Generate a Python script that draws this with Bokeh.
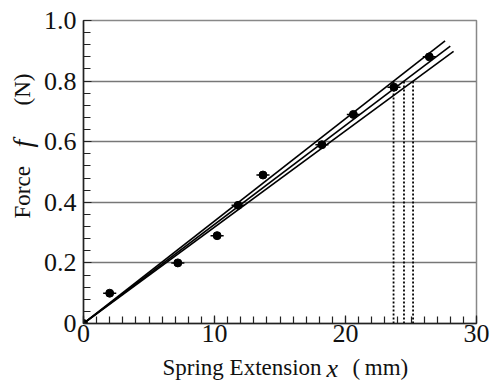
import math
from bokeh.plotting import figure
from bokeh.models import Label, FixedTicker, Range1d
from bokeh.layouts import row, column
from bokeh.embed import file_html
from bokeh.resources import INLINE

# data
ext = [2.0, 7.2, 10.2, 11.8, 13.7, 18.2, 20.6, 23.7, 26.4]
force = [0.10, 0.20, 0.29, 0.39, 0.49, 0.59, 0.69, 0.78, 0.88]
ext_err = [0.5, 0.5, 0.5, 0.5, 0.5, 0.5, 0.5, 0.5, 0.5]
fit_slopes = [0.0338, 0.0327, 0.0318]
fit_xend = [27.6, 28.0, 28.25]
read_force = 0.8
x_ticks = [0, 10, 20, 30]
y_ticks = [0, 0.2, 0.4, 0.6, 0.8, 1.0]
y_tick_labels = ["0", "0.2", "0.4", "0.6", "0.8", "1.0"]

FONT = "Liberation Serif"
INK = "#111111"

p = figure(width=451, height=354, output_backend="svg", toolbar_location=None,
           x_range=Range1d(0, 30), y_range=Range1d(0, 1.0),
           min_border_left=41, min_border_right=15, min_border_top=20, min_border_bottom=31)
p.background_fill_color = "white"
p.border_fill_color = "white"
p.outline_line_color = "#888888"
p.outline_line_width = 1.5

p.xgrid.visible = False
p.ygrid.ticker = FixedTicker(ticks=[0.2, 0.4, 0.6, 0.8])
p.ygrid.grid_line_color = "#777777"
p.ygrid.grid_line_width = 1.5

p.xaxis.ticker = FixedTicker(ticks=x_ticks, minor_ticks=list(range(0, 31)))
p.yaxis.ticker = FixedTicker(ticks=y_ticks, minor_ticks=[round(i * 0.04, 2) for i in range(26)])
p.yaxis.major_label_overrides = {t: l for t, l in zip(y_ticks, y_tick_labels)}
for ax in (p.xaxis[0], p.yaxis[0]):
    ax.major_tick_in = 8
    ax.major_tick_out = 0
    ax.minor_tick_in = 7
    ax.minor_tick_out = 0
    ax.axis_line_color = "#222222"
    ax.axis_line_width = 1.5
    ax.major_tick_line_color = "#222222"
    ax.minor_tick_line_color = "#222222"
    ax.major_tick_line_width = 1.2
    ax.minor_tick_line_width = 1.2
    ax.major_label_text_font = FONT
    ax.major_label_text_font_size = "26px"
    ax.major_label_text_color = INK
p.xaxis[0].major_label_standoff = 1
p.yaxis[0].major_label_standoff = 7

# fit lines
for s, xe in zip(fit_slopes, fit_xend):
    p.line([0, xe], [0, s * xe], line_color="black", line_width=1.6)

# dotted read-off lines
for s in fit_slopes:
    xr = read_force / s
    p.line([xr, xr], [0, read_force], line_color="black", line_width=1.8, line_dash="2 2")

# error bars and points
p.segment(x0=[x - e for x, e in zip(ext, ext_err)], y0=force,
          x1=[x + e for x, e in zip(ext, ext_err)], y1=force,
          line_color="black", line_width=1.5)
p.scatter(ext, force, size=8, color="black")
p.scatter([0], [0], size=8, color="black")


def blank(w, h):
    f = figure(width=w, height=h, output_backend="svg", toolbar_location=None,
               x_range=Range1d(0, 1), y_range=Range1d(0, 1),
               x_axis_location=None, y_axis_location=None,
               min_border=0, min_border_left=0, min_border_right=0,
               min_border_top=0, min_border_bottom=0)
    f.grid.visible = False
    f.outline_line_color = None
    f.background_fill_color = "white"
    f.border_fill_color = "white"
    return f


def lab(fig, text, x, y, size, style="normal", angle=0.0):
    fig.add_layout(Label(x=x, y=y, x_units="screen", y_units="screen", text=text,
                         text_font=FONT, text_font_size=size, text_font_style=style,
                         text_color=INK, angle=angle, text_baseline="middle"))


# x axis title
pb = blank(451, 29)
lab(pb, "Spring Extension", 79, 16, "23px")
lab(pb, "x", 243, 15, "26px", "italic")
lab(pb, "(\u2009mm)", 269, 16, "23px")

# y axis title
pl = blank(40, 383)
lab(pl, "Force", 22, 165, "23px", angle=math.pi / 2)
lab(pl, "f", 22, 236, "28px", "italic", angle=math.pi / 2)
lab(pl, "(N)", 22, 278, "23px", angle=math.pi / 2)

layout = row(pl, column(p, pb))
open("out.html", "w").write(file_html(layout, INLINE))
